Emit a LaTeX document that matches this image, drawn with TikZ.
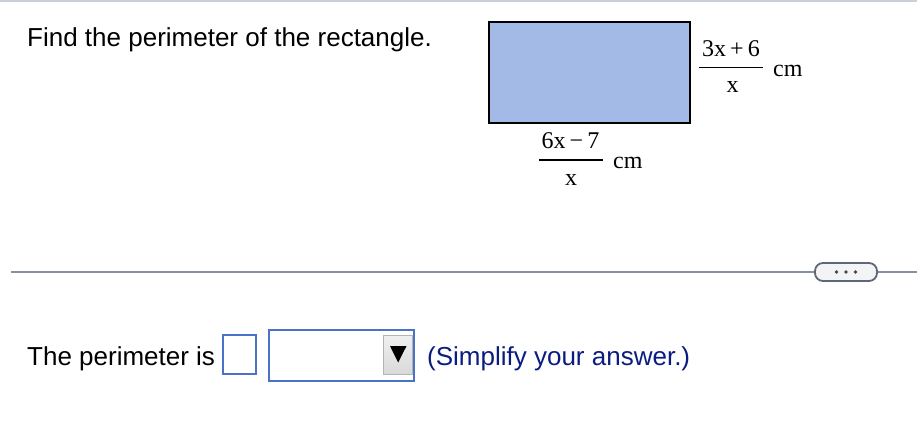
\documentclass[tikz,border=0pt]{standalone}
\usepackage{fontspec}
\setmainfont{Liberation Sans}
\newfontfamily\mathserif{Liberation Serif}
\definecolor{rectfill}{HTML}{A3B9E6}
\definecolor{topline}{HTML}{C9D0DC}
\definecolor{sepline}{HTML}{86909E}
\definecolor{pillborder}{HTML}{5E6776}
\definecolor{pillfill}{HTML}{F3F4F6}
\definecolor{inputblue}{HTML}{4A72C8}
\definecolor{hintnavy}{HTML}{0B1C80}
\definecolor{btnborder}{HTML}{B4B4B4}
\tikzset{
  sanstext/.style={anchor=base west, inner sep=0pt, font=\fontsize{26}{31}\selectfont},
  fractext/.style={anchor=base, inner sep=0pt, font=\mathserif\fontsize{24}{28}\selectfont},
  unittext/.style={anchor=base west, inner sep=0pt, font=\mathserif\fontsize{24}{28}\selectfont},
  fracbar/.style={line width=1.4pt},
  inputbox/.style={draw=inputblue, line width=2pt, fill=white},
}
\begin{document}
\begin{tikzpicture}[x=1pt,y=-1pt]
\useasboundingbox (0,0) rectangle (917,441);
\draw[topline, line width=2pt] (0,1) -- (917,1);

\node[sanstext] (question) at (27,47) {Find the perimeter of the rectangle.};

\node[draw=black, line width=2pt, fill=rectfill, minimum width=201pt, minimum height=100pt, inner sep=0pt, anchor=north west] (rect) at (487.5,21.5) {};

% right side fraction
\node[fractext] (rnum) at (731,56.5) {3x\,+\,6};
\node[fractext] (rden) at (732.5,93) {x};
\coordinate (rbarL) at (699,67.5);
\coordinate (rbarR) at (763,67.5);
\draw[fracbar] (rbarL) -- (rbarR);
\node[unittext] (runit) at (773,76.5) {cm};

% bottom fraction
\node[fractext] (bnum) at (570.5,148) {6x\,−\,7};
\node[fractext] (bden) at (571,185) {x};
\coordinate (bbarL) at (539,160);
\coordinate (bbarR) at (603,160);
\draw[fracbar] (bbarL) -- (bbarR);
\node[unittext] (bunit) at (613,168) {cm};

% separator
\coordinate (sepL) at (11,272);
\coordinate (sepR) at (917,272);
\draw[sepline, line width=1.6pt] (sepL) -- (sepR);
\node[draw=pillborder, line width=1.8pt, fill=pillfill, rounded corners=8pt, minimum width=62pt, minimum height=18pt, inner sep=0pt] (pill) at (846,272) {};
\foreach \dx in {-9.5,0,9.5} \fill[pillborder!70!black] ([xshift=\dx pt]pill.center) circle (1.9pt);

% answer line
\node[sanstext] (answer) at (27,365) {The perimeter is};
\node[inputbox, minimum width=33pt, minimum height=39pt, inner sep=0pt] (box1) at (239,354.7) {};
\node[inputbox, minimum width=145pt, minimum height=51pt, inner sep=0pt] (drop) at (341.7,355) {};
\node[draw=btnborder, line width=1pt, top color=white!94!black, bottom color=white!85!black, minimum width=29pt, minimum height=39pt, inner sep=0pt] (btn) at (398,355) {};
\fill[black] (390,346) -- (406.5,346) -- (398.2,362.5) -- cycle;
\node[sanstext, text=hintnavy] (hint) at (427,365) {(Simplify your answer.)};
\end{tikzpicture}
\end{document}
